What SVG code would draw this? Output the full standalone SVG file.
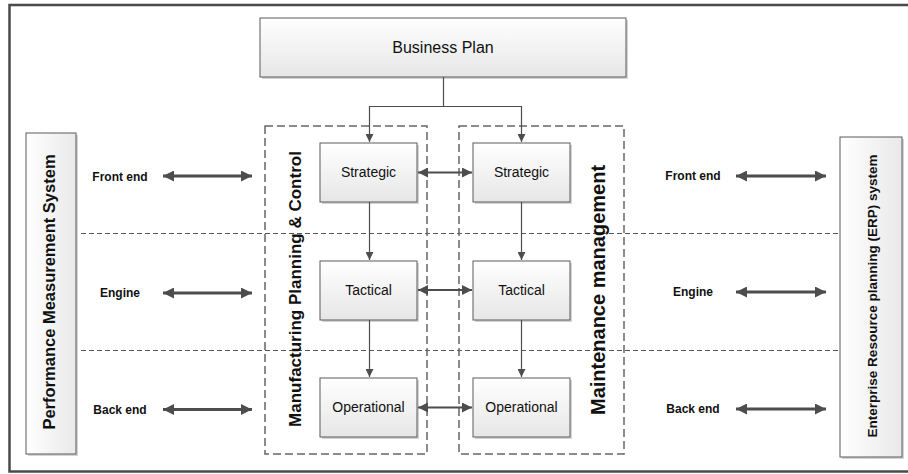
<svg xmlns="http://www.w3.org/2000/svg" width="908" height="474" viewBox="0 0 908 474">
  <defs>
    <linearGradient id="boxFill" x1="0" y1="0" x2="0" y2="1">
      <stop offset="0" stop-color="#ffffff"/>
      <stop offset="1" stop-color="#e6e6e6"/>
    </linearGradient>
    <linearGradient id="sideFill" x1="0" y1="0" x2="1" y2="0">
      <stop offset="0" stop-color="#ffffff"/>
      <stop offset="1" stop-color="#e9e9e9"/>
    </linearGradient>
    <marker id="headSmall" viewBox="0 0 10 10" refX="10" refY="5" markerWidth="8" markerHeight="8" markerUnits="userSpaceOnUse" orient="auto">
      <path d="M0,0 L10,5 L0,10 Z" fill="#4d4d4d"/>
    </marker>
    <marker id="headMid" viewBox="0 0 10 10" refX="10" refY="5" markerWidth="11" markerHeight="10" markerUnits="userSpaceOnUse" orient="auto-start-reverse">
      <path d="M0,0 L10,5 L0,10 Z" fill="#4d4d4d"/>
    </marker>
    <marker id="headBig" viewBox="0 0 10 10" refX="10" refY="5" markerWidth="14" markerHeight="11" markerUnits="userSpaceOnUse" orient="auto-start-reverse">
      <path d="M0,0 L10,5 L0,10 Z" fill="#4d4d4d"/>
    </marker>
  </defs>
  <style>
    .box { fill: url(#boxFill); stroke: #5a5a5a; stroke-width: 1; }
    .side { fill: url(#sideFill); stroke: #5a5a5a; stroke-width: 1; }
    .shadow { fill: #d4d4d4; }
    .group { fill: none; stroke: #666; stroke-width: 1.5; stroke-dasharray: 8 4; }
    .sep { fill: none; stroke: #555; stroke-width: 1; stroke-dasharray: 5 3; }
    .flow { fill: none; stroke: #4d4d4d; stroke-width: 1.2; }
    .link { fill: none; stroke: #4d4d4d; stroke-width: 2.2; marker-start: url(#headMid); marker-end: url(#headMid); }
    .iface { fill: none; stroke: #4d4d4d; stroke-width: 3; marker-start: url(#headBig); marker-end: url(#headBig); }
    .t { font-family: "Liberation Sans", Arial, sans-serif; fill: #111; text-anchor: middle; dominant-baseline: central; }
    .lbl { font-size: 14px; }
    .tag { font-size: 12px; font-weight: bold; }
    .vert { font-weight: bold; }
  </style>

  <!-- outer frame -->
  <rect x="9.5" y="5" width="920" height="466.5" fill="#fff" stroke="#4a4a4a" stroke-width="2.5"/>

  <!-- row separators -->
  <g id="separators">
    <line class="sep" x1="81" y1="233.5" x2="838" y2="233.5"/>
    <line class="sep" x1="81" y1="350.5" x2="838" y2="350.5"/>
  </g>

  <!-- dashed groupings -->
  <g id="mpc-group">
    <rect class="group" x="265" y="126" width="162" height="328"/>
    <text class="t vert" font-size="17" transform="translate(295,289) rotate(-90)">Manufacturing Planning &amp; Control</text>
  </g>
  <g id="mm-group">
    <rect class="group" x="459" y="126" width="165" height="328"/>
    <text class="t vert" font-size="20" transform="translate(598,290) rotate(-90)">Maintenance management</text>
  </g>

  <g id="business-plan">
    <rect class="shadow" x="262" y="20" width="366" height="59"/>
    <rect class="box" x="260" y="18" width="366" height="59"/>
    <text class="t" x="443" y="47.5" font-size="16">Business Plan</text>
  </g>

  <g id="pms">
    <rect class="shadow" x="28" y="135" width="50" height="321"/>
    <rect class="side" x="26" y="133" width="50" height="321"/>
    <text class="t vert" font-size="16.5" transform="translate(49,292) rotate(-90)">Performance Measurement System</text>
  </g>
  <g id="erp">
    <rect class="shadow" x="842" y="139" width="62" height="320"/>
    <rect class="side" x="840" y="137" width="62" height="320"/>
    <text class="t vert" font-size="13.5" transform="translate(872,296) rotate(-90)">Enterprise Resource planning (ERP) system</text>
  </g>

  <g id="mpc-strategic">
    <rect class="shadow" x="322" y="145" width="97" height="59"/>
    <rect class="box" x="320" y="143" width="97" height="59"/>
    <text class="t lbl" x="368.5" y="172">Strategic</text>
  </g>
  <g id="mpc-tactical">
    <rect class="shadow" x="322" y="263" width="97" height="59"/>
    <rect class="box" x="320" y="261" width="97" height="59"/>
    <text class="t lbl" x="368.5" y="290">Tactical</text>
  </g>
  <g id="mpc-operational">
    <rect class="shadow" x="322" y="380" width="97" height="59"/>
    <rect class="box" x="320" y="378" width="97" height="59"/>
    <text class="t lbl" x="368.5" y="407">Operational</text>
  </g>
  <g id="mm-strategic">
    <rect class="shadow" x="475" y="145" width="97" height="59"/>
    <rect class="box" x="473" y="143" width="97" height="59"/>
    <text class="t lbl" x="521.5" y="172">Strategic</text>
  </g>
  <g id="mm-tactical">
    <rect class="shadow" x="475" y="263" width="97" height="59"/>
    <rect class="box" x="473" y="261" width="97" height="59"/>
    <text class="t lbl" x="521.5" y="290">Tactical</text>
  </g>
  <g id="mm-operational">
    <rect class="shadow" x="475" y="380" width="97" height="59"/>
    <rect class="box" x="473" y="378" width="97" height="59"/>
    <text class="t lbl" x="521.5" y="407">Operational</text>
  </g>

  <g id="layer-labels">
    <text class="t tag" x="120" y="177">Front end</text>
    <text class="t tag" x="120" y="293">Engine</text>
    <text class="t tag" x="120" y="410">Back end</text>
    <text class="t tag" x="693" y="176">Front end</text>
    <text class="t tag" x="693" y="292">Engine</text>
    <text class="t tag" x="693" y="409">Back end</text>
  </g>

  <g id="connectors">
    <!-- business plan split -->
    <path class="flow" d="M443.5,77 V106.5 H369.5 V142" marker-end="url(#headSmall)"/>
    <path class="flow" d="M443.5,106.5 H521.5 V142" marker-end="url(#headSmall)"/>
    <!-- hierarchy within each column -->
    <line class="flow" x1="369.5" y1="202" x2="369.5" y2="260" marker-end="url(#headSmall)"/>
    <line class="flow" x1="369.5" y1="320" x2="369.5" y2="377" marker-end="url(#headSmall)"/>
    <line class="flow" x1="521.5" y1="202" x2="521.5" y2="260" marker-end="url(#headSmall)"/>
    <line class="flow" x1="521.5" y1="320" x2="521.5" y2="377" marker-end="url(#headSmall)"/>
    <!-- column links -->
    <line class="link" x1="418" y1="172.5" x2="472" y2="172.5"/>
    <line class="link" x1="418" y1="290" x2="472" y2="290"/>
    <line class="link" x1="418" y1="407.5" x2="472" y2="407.5"/>
    <!-- system interfaces -->
    <line class="iface" x1="163" y1="176" x2="252" y2="176"/>
    <line class="iface" x1="163" y1="293" x2="252" y2="293"/>
    <line class="iface" x1="163" y1="409.5" x2="252" y2="409.5"/>
    <line class="iface" x1="736" y1="176" x2="826" y2="176"/>
    <line class="iface" x1="736" y1="292" x2="826" y2="292"/>
    <line class="iface" x1="736" y1="409" x2="826" y2="409"/>
  </g>
</svg>
